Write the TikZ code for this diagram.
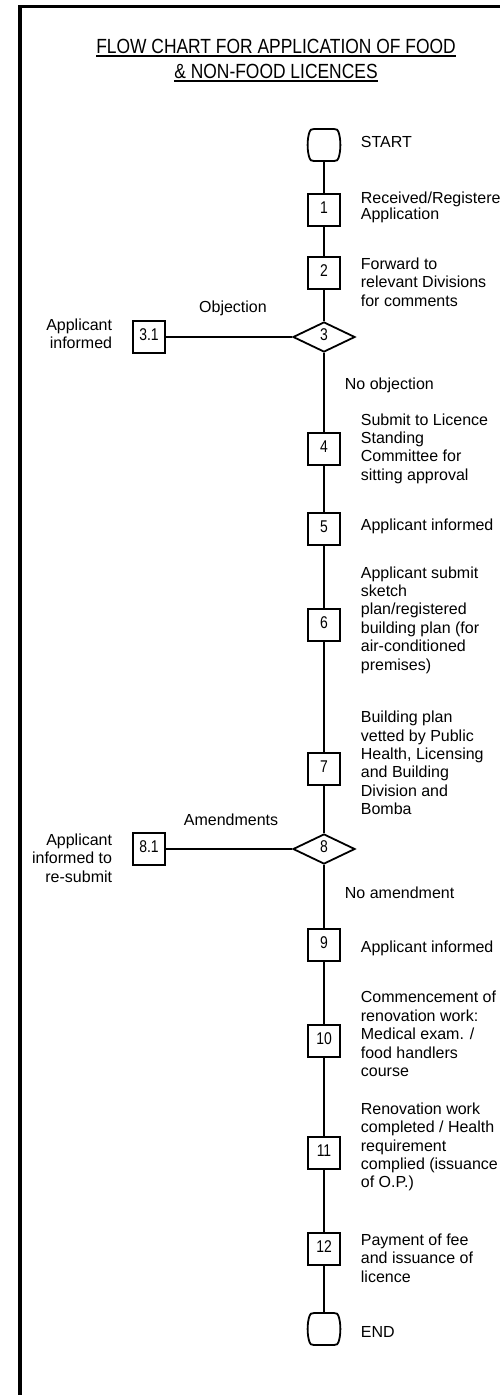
\documentclass[tikz,border=0pt]{standalone}
\usepackage{fontspec}
\setmainfont{Liberation Sans}
\newfontfamily\narrowfont[FakeStretch=0.82]{Liberation Sans}
\newfontfamily\headfont[FakeStretch=0.85]{Liberation Sans}
\usetikzlibrary{shapes.geometric}

\newsavebox\headbox
\newcommand\headul[1]{\sbox\headbox{#1}\rlap{\rule[-3.5pt]{\wd\headbox}{1.6pt}}\usebox\headbox}
% outline of the start / end symbol
\newcommand\terminal[1]{%
  \draw[shift={(#1.center)}] (-10,-16) -- (10,-16)
    .. controls (13,-16) and (14,-15) .. (14.5,-13)
    .. controls (17,-6) and (17,6) .. (14.5,13)
    .. controls (14,15) and (13,16) .. (10,16)
    -- (-10,16)
    .. controls (-13,16) and (-14,15) .. (-14.5,13)
    .. controls (-17,6) and (-17,-6) .. (-14.5,-13)
    .. controls (-14,-15) and (-13,-16) .. (-10,-16) -- cycle;}

\tikzset{
  termnode/.style={minimum width=32pt, minimum height=32pt, inner sep=0pt},
  stepbox/.style={draw, minimum width=32pt, minimum height=32pt, inner sep=0pt,
    text height=12pt, text depth=6pt, font=\narrowfont\fontsize{17}{20}\selectfont},
  decision/.style={draw, diamond, minimum width=62pt, minimum height=30pt, inner sep=0pt,
    text height=12pt, text depth=5pt, font=\narrowfont\fontsize{17}{20}\selectfont},
  note/.style={anchor=west, align=left, inner sep=0pt, font=\fontsize{16}{18.4}\selectfont},
  leftnote/.style={anchor=east, align=right, inner sep=0pt, font=\fontsize{16}{18.4}\selectfont},
  branch/.style={inner sep=0pt, font=\fontsize{16}{18.4}\selectfont},
}

\begin{document}
\begin{tikzpicture}[x=1pt, y=-1pt, line width=1.8pt]
  \useasboundingbox (0,0) rectangle (500,1395);
  \draw [line width=3.5pt] (20,1400) -- (20,6.5) -- (510,6.5);

  \node [anchor=north, align=center, inner sep=0pt, font=\headfont\fontsize{20.5}{25}\selectfont]
    (title) at (276,38.3) {\headul{FLOW CHART FOR APPLICATION OF FOOD}\\\headul{\& NON-FOOD LICENCES}};

  % main column
  \node [termnode] (start) at (324,145) {};
  \node [stepbox] (b1) at (324,210) {1};
  \node [stepbox] (b2) at (324,273) {2};
  \node [decision] (d3) at (324,337) {3};
  \node [stepbox] (b4) at (324,449) {4};
  \node [stepbox] (b5) at (324,529) {5};
  \node [stepbox] (b6) at (324,625) {6};
  \node [stepbox] (b7) at (324,769) {7};
  \node [decision] (d8) at (324,849) {8};
  \node [stepbox] (b9) at (324,945) {9};
  \node [stepbox] (b10) at (324,1041) {10};
  \node [stepbox] (b11) at (324,1153) {11};
  \node [stepbox] (b12) at (324,1249) {12};
  \node [termnode] (stop) at (324,1329) {};
  \terminal{start}
  \terminal{stop}

  % side branches
  \node [stepbox] (b31) at (149,337) {3.1};
  \node [stepbox] (b81) at (149,849) {8.1};

  \draw (start) -- (b1);
  \draw (b1) -- (b2);
  \draw (b2) -- (d3);
  \draw (d3) -- (b4);
  \draw (b4) -- (b5);
  \draw (b5) -- (b6);
  \draw (b6) -- (b7);
  \draw (b7) -- (d8);
  \draw (d8) -- (b9);
  \draw (b9) -- (b10);
  \draw (b10) -- (b11);
  \draw (b11) -- (b12);
  \draw (b12) -- (stop);
  \draw (b31) -- (d3);
  \draw (b81) -- (d8);

  % texts
  \node [note] (tstart) at (360,142) {START};
  \node [note] (t1) at (360,207.5) {Received/Registere\\[-3pt]Application};
  \node [note] (t2) at (360,282) {Forward to\\relevant Divisions\\for comments};
  \node [branch] (obj) at (233,308) {Objection};
  \node [leftnote] (t31) at (113,334) {Applicant\\informed};
  \node [note] (noobj) at (344,385) {No objection};
  \node [note] (t4) at (360,448.5) {Submit to Licence\\Standing\\Committee for\\sitting approval};
  \node [note] (t5) at (360,526) {Applicant informed};
  \node [note] (t6) at (360,620) {Applicant submit\\sketch\\plan/registered\\building plan (for\\air-conditioned\\premises)};
  \node [note] (t7) at (360,763) {Building plan\\vetted by Public\\Health, Licensing\\and Building\\Division and\\Bomba};
  \node [branch] (amd) at (231,820) {Amendments};
  \node [leftnote] (t81) at (113,858) {Applicant\\informed to\\re-submit};
  \node [note] (noamd) at (344,893) {No amendment};
  \node [note] (t9) at (360,948) {Applicant informed};
  \node [note] (t10) at (360,1034) {Commencement of\\renovation work:\\Medical exam. /\\food handlers\\course};
  \node [note] (t11) at (360,1147) {Renovation work\\completed / Health\\requirement\\complied (issuance\\of O.P.)};
  \node [note] (t12) at (360,1258) {Payment of fee\\and issuance of\\licence};
  \node [note] (tstop) at (360,1332) {END};
\end{tikzpicture}
\end{document}
